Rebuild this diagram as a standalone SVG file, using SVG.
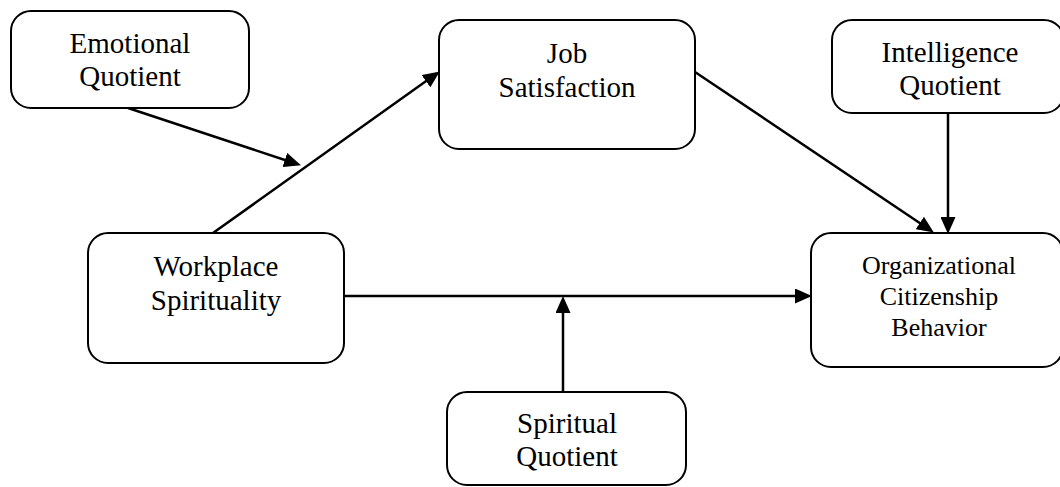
<svg xmlns="http://www.w3.org/2000/svg" width="1060" height="487" viewBox="0 0 1060 487">
<style>
.box{fill:#fff;stroke:#000;stroke-width:2}
.t{font-family:"Liberation Serif","Times New Roman",serif;font-size:29px;fill:#000;text-anchor:middle}
.s{font-size:26px}
.c{stroke:#000;stroke-width:2.5;fill:none;marker-end:url(#ah)}
</style>
<defs>
<marker id="ah" markerUnits="userSpaceOnUse" markerWidth="17" markerHeight="15" refX="8" refY="7.5" orient="auto">
<path d="M0,0 L17,7.5 L0,15 z" fill="#000"/>
</marker>
</defs>
<rect width="1060" height="487" fill="#fff"/>
<g id="connectors">
<line class="c" x1="128" y1="108" x2="292.4" y2="162.5"/>
<line class="c" x1="213" y1="233" x2="432.5" y2="76.6"/>
<line class="c" x1="695" y1="72" x2="926.4" y2="227.5"/>
<line class="c" x1="948" y1="113" x2="948" y2="225"/>
<line class="c" x1="344" y1="296" x2="803" y2="296"/>
<line class="c" x1="563" y1="392" x2="563" y2="305"/>
</g>
<g id="eq">
<rect class="box" x="11" y="11" width="238" height="97" rx="20"/>
<text class="t" x="130" y="53">Emotional</text>
<text class="t" x="130" y="86">Quotient</text>
</g>
<g id="js">
<rect class="box" x="439" y="20" width="256" height="129" rx="20"/>
<text class="t" x="567" y="63">Job</text>
<text class="t" x="567" y="97">Satisfaction</text>
</g>
<g id="iq">
<rect class="box" x="832" y="20" width="232" height="93" rx="20"/>
<text class="t" x="950" y="62">Intelligence</text>
<text class="t" x="950" y="95">Quotient</text>
</g>
<g id="ws">
<rect class="box" x="88" y="233" width="256" height="130" rx="20"/>
<text class="t" x="216" y="276">Workplace</text>
<text class="t" x="216" y="310">Spirituality</text>
</g>
<g id="ocb">
<rect class="box" x="811" y="233" width="252" height="134" rx="20"/>
<text class="t s" x="939" y="274">Organizational</text>
<text class="t s" x="939" y="305">Citizenship</text>
<text class="t s" x="939" y="336">Behavior</text>
</g>
<g id="sq">
<rect class="box" x="447" y="392" width="239" height="93" rx="20"/>
<text class="t" x="567" y="433">Spiritual</text>
<text class="t" x="567" y="466">Quotient</text>
</g>
</svg>
